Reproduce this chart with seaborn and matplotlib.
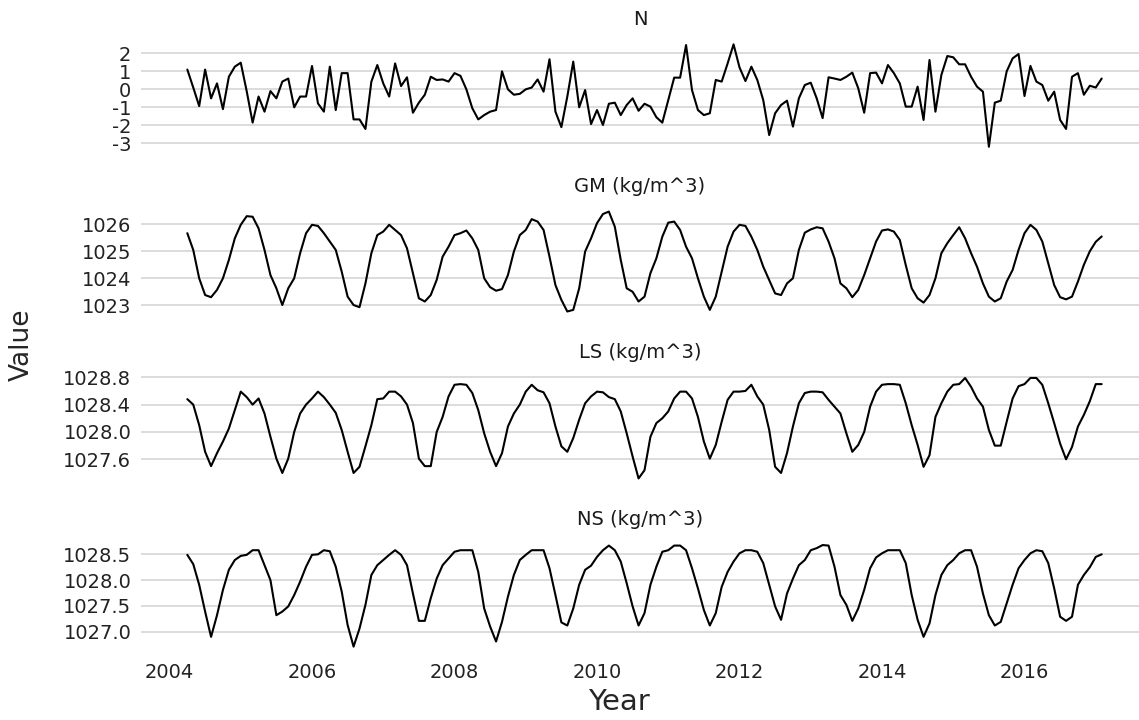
import matplotlib
matplotlib.use("Agg")
import matplotlib.pyplot as plt
import pandas as pd
import seaborn as sns

# monthly observations, April 2004 - February 2017
months = pd.date_range("2004-04-01", periods=155, freq="MS")

n_index = [
    1.1, 0.1, -0.93, 1.1, -0.5, 0.33, -1.1, 0.7, 1.26, 1.48, -0.1, -1.85,
    -0.4, -1.24, -0.1, -0.5, 0.43, 0.6, -1.0, -0.4, -0.4, 1.3, -0.78, -1.24,
    1.26, -1.15, 0.9, 0.9, -1.67, -1.67, -2.2, 0.43, 1.35, 0.33, -0.4, 1.44,
    0.18, 0.67, -1.3, -0.74, -0.3, 0.7, 0.52, 0.55, 0.43, 0.9, 0.75, 0.0,
    -1.05, -1.67, -1.43, -1.24, -1.15, 1.0, 0.0, -0.3, -0.25, 0.0, 0.1, 0.55,
    -0.13, 1.67, -1.24, -2.1, -0.4, 1.54, -1.0, -0.04, -1.93, -1.15, -1.98, -0.8,
    -0.74, -1.43, -0.87, -0.5, -1.19, -0.8, -0.96, -1.55, -1.85, -0.6, 0.65, 0.65,
    2.46, -0.04, -1.15, -1.43, -1.33, 0.52, 0.43, 1.44, 2.5, 1.22, 0.46, 1.26,
    0.52, -0.6, -2.54, -1.33, -0.87, -0.63, -2.07, -0.5, 0.24, 0.37, -0.5, -1.6,
    0.67, 0.6, 0.52, 0.7, 0.93, 0.06, -1.3, 0.9, 0.93, 0.33, 1.35, 0.9,
    0.33, -0.96, -0.96, 0.15, -1.7, 1.63, -1.24, 0.8, 1.85, 1.78, 1.39, 1.39,
    0.7, 0.15, -0.13, -3.19, -0.74, -0.63, 1.0, 1.72, 1.96, -0.37, 1.3, 0.43,
    0.24, -0.63, -0.13, -1.7, -2.2, 0.7, 0.9, -0.3, 0.2, 0.1, 0.6,
]

gm_density = [
    1025.67, 1025.05, 1024.0, 1023.38, 1023.3, 1023.57, 1024.0, 1024.68, 1025.48, 1025.98, 1026.3, 1026.28,
    1025.85, 1025.05, 1024.12, 1023.63, 1023.01, 1023.63, 1024.0, 1024.93, 1025.67, 1025.98, 1025.94, 1025.67,
    1025.36, 1025.05, 1024.25, 1023.32, 1023.01, 1022.93, 1023.81, 1024.93, 1025.6, 1025.73, 1025.98, 1025.79,
    1025.6, 1025.11, 1024.19, 1023.26, 1023.14, 1023.38, 1023.94, 1024.8, 1025.17, 1025.6, 1025.67, 1025.77,
    1025.48, 1025.05, 1024.0, 1023.67, 1023.54, 1023.6, 1024.12, 1024.99, 1025.6, 1025.79, 1026.19, 1026.1,
    1025.79, 1024.8, 1023.75, 1023.2, 1022.77, 1022.83, 1023.63, 1024.99, 1025.48, 1026.04, 1026.38, 1026.47,
    1025.91, 1024.68, 1023.63, 1023.5, 1023.14, 1023.32, 1024.19, 1024.74, 1025.54, 1026.06, 1026.1, 1025.79,
    1025.17, 1024.74, 1024.0, 1023.32, 1022.83, 1023.32, 1024.25, 1025.17, 1025.73, 1025.98, 1025.94, 1025.54,
    1025.05, 1024.43, 1023.94, 1023.44, 1023.38, 1023.81, 1024.0, 1025.05, 1025.69, 1025.81, 1025.89, 1025.85,
    1025.36, 1024.74, 1023.81, 1023.63, 1023.3, 1023.57, 1024.12, 1024.74, 1025.36, 1025.77, 1025.81, 1025.73,
    1025.42, 1024.49, 1023.63, 1023.26, 1023.1, 1023.38, 1024.0, 1024.93, 1025.3, 1025.6, 1025.89, 1025.48,
    1024.93, 1024.43, 1023.81, 1023.32, 1023.14, 1023.26, 1023.88, 1024.31, 1025.05, 1025.67, 1025.98, 1025.79,
    1025.36, 1024.56, 1023.75, 1023.3, 1023.22, 1023.32, 1023.88, 1024.5, 1025.0, 1025.35, 1025.55,
]

ls_density = [
    1028.48, 1028.4, 1028.1, 1027.71, 1027.5, 1027.69, 1027.86, 1028.05, 1028.32, 1028.59, 1028.51, 1028.4,
    1028.49, 1028.27, 1027.93, 1027.61, 1027.4, 1027.61, 1028.0, 1028.27, 1028.4, 1028.49, 1028.59, 1028.51,
    1028.4, 1028.28, 1028.03, 1027.71, 1027.4, 1027.49, 1027.79, 1028.1, 1028.48, 1028.49, 1028.59, 1028.59,
    1028.52, 1028.4, 1028.13, 1027.61, 1027.5, 1027.5, 1028.0, 1028.22, 1028.52, 1028.69, 1028.7, 1028.69,
    1028.57, 1028.32, 1027.98, 1027.71, 1027.5, 1027.69, 1028.08, 1028.27, 1028.4, 1028.59, 1028.69, 1028.61,
    1028.58, 1028.42, 1028.08, 1027.79, 1027.71, 1027.91, 1028.18, 1028.42, 1028.52, 1028.59, 1028.58, 1028.51,
    1028.48, 1028.3, 1027.98, 1027.64, 1027.32, 1027.44, 1027.93, 1028.13, 1028.2, 1028.3, 1028.49, 1028.59,
    1028.59, 1028.49, 1028.22, 1027.86, 1027.61, 1027.81, 1028.15, 1028.47, 1028.59, 1028.59, 1028.6, 1028.69,
    1028.52, 1028.4, 1028.03, 1027.49, 1027.4, 1027.69, 1028.08, 1028.42, 1028.57, 1028.59, 1028.59, 1028.58,
    1028.47, 1028.37, 1028.27, 1027.98, 1027.71, 1027.81, 1028.0, 1028.37, 1028.59, 1028.69, 1028.7, 1028.7,
    1028.69, 1028.42, 1028.1, 1027.81, 1027.49, 1027.66, 1028.22, 1028.42, 1028.59, 1028.69, 1028.7, 1028.79,
    1028.66, 1028.49, 1028.37, 1028.03, 1027.8, 1027.8, 1028.15, 1028.49, 1028.67, 1028.7, 1028.79, 1028.79,
    1028.69, 1028.42, 1028.13, 1027.83, 1027.6, 1027.78, 1028.08, 1028.25, 1028.45, 1028.7, 1028.7,
]

ns_density = [
    1028.49, 1028.31, 1027.91, 1027.39, 1026.9, 1027.32, 1027.81, 1028.2, 1028.39, 1028.47, 1028.49, 1028.58,
    1028.58, 1028.29, 1028.0, 1027.32, 1027.39, 1027.49, 1027.71, 1027.97, 1028.26, 1028.49, 1028.5, 1028.58,
    1028.56, 1028.26, 1027.78, 1027.13, 1026.71, 1027.06, 1027.52, 1028.1, 1028.29, 1028.39, 1028.49, 1028.58,
    1028.49, 1028.29, 1027.74, 1027.21, 1027.21, 1027.65, 1028.03, 1028.29, 1028.42, 1028.55, 1028.58, 1028.58,
    1028.58, 1028.16, 1027.45, 1027.1, 1026.81, 1027.19, 1027.68, 1028.1, 1028.39, 1028.49, 1028.58, 1028.58,
    1028.58, 1028.23, 1027.71, 1027.18, 1027.12, 1027.45, 1027.91, 1028.2, 1028.28, 1028.45, 1028.58, 1028.67,
    1028.58, 1028.36, 1027.94, 1027.49, 1027.12, 1027.36, 1027.91, 1028.26, 1028.55, 1028.58, 1028.67, 1028.67,
    1028.58, 1028.23, 1027.84, 1027.42, 1027.12, 1027.36, 1027.87, 1028.16, 1028.36, 1028.52, 1028.58, 1028.58,
    1028.55, 1028.33, 1027.91, 1027.49, 1027.23, 1027.74, 1028.03, 1028.29, 1028.39, 1028.58, 1028.62, 1028.68,
    1028.67, 1028.26, 1027.71, 1027.52, 1027.21, 1027.45, 1027.81, 1028.23, 1028.44, 1028.52, 1028.58, 1028.58,
    1028.58, 1028.33, 1027.71, 1027.23, 1026.9, 1027.16, 1027.71, 1028.1, 1028.29, 1028.39, 1028.52, 1028.58,
    1028.58, 1028.26, 1027.74, 1027.32, 1027.12, 1027.19, 1027.55, 1027.91, 1028.23, 1028.39, 1028.52, 1028.58,
    1028.56, 1028.33, 1027.84, 1027.29, 1027.21, 1027.29, 1027.91, 1028.1, 1028.25, 1028.45, 1028.5,
]

panel_names = ["N", "GM (kg/m^3)", "LS (kg/m^3)", "NS (kg/m^3)"]
year_ticks = [2004, 2006, 2008, 2010, 2012, 2014, 2016]
y_ticks = {
    "N": [-3, -2, -1, 0, 1, 2],
    "GM (kg/m^3)": [1023, 1024, 1025, 1026],
    "LS (kg/m^3)": [1027.6, 1028.0, 1028.4, 1028.8],
    "NS (kg/m^3)": [1027.0, 1027.5, 1028.0, 1028.5],
}
y_fmt = {"N": "{:g}", "GM (kg/m^3)": "{:g}", "LS (kg/m^3)": "{:.1f}", "NS (kg/m^3)": "{:.1f}"}

year_frac = months.year + (months.month - 1) / 12
wide = pd.DataFrame({
    "Year": year_frac,
    "N": n_index,
    "GM (kg/m^3)": gm_density,
    "LS (kg/m^3)": ls_density,
    "NS (kg/m^3)": ns_density,
})
df = wide.melt(id_vars="Year", var_name="variable", value_name="Value")

sns.set_theme(style="white")
plt.rcParams["font.family"] = ["DejaVu Sans"]

W, H = 1139, 720
fig = plt.figure(figsize=(W / 100, H / 100), dpi=100)

# panel placement in pixels: (top, bottom) and y limits
layout = {
    "N": (39.3, 151.8, (-3.47, 2.78)),
    "GM (kg/m^3)": (206.6, 316.5, (1022.585, 1026.655)),
    "LS (kg/m^3)": (372.9, 483.5, (1027.246, 1028.864)),
    "NS (kg/m^3)": (539.9, 651.8, (1026.61, 1028.78)),
}
left_px = 141
x_min = 2003.60
x_max = x_min + (W - left_px) / 71.25
strip_x = 640 / W

for k, name in enumerate(panel_names):
    top, bottom, ylim = layout[name]
    ax = fig.add_axes([left_px / W, 1 - bottom / H, (W - left_px) / W, (bottom - top) / H])
    sns.lineplot(data=df[df["variable"] == name], x="Year", y="Value",
                 color="black", linewidth=1.5, ax=ax)
    ax.set_xlim(x_min, x_max)
    ax.set_ylim(*ylim)
    ax.set_yticks(y_ticks[name])
    ax.set_yticklabels([y_fmt[name].format(v) for v in y_ticks[name]])
    ax.yaxis.grid(True, color="#d2d2d2", linewidth=1.1)
    ax.xaxis.grid(False)
    for s in ax.spines.values():
        s.set_visible(False)
    ax.set_xlabel("")
    ax.set_ylabel("")
    ax.tick_params(axis="y", length=4, width=1, color="#333333", pad=3,
                   labelsize=14, labelcolor="#222222")
    ax.set_xticks(year_ticks)
    if k == len(panel_names) - 1:
        ax.set_xticklabels([str(y) for y in year_ticks])
        ax.tick_params(axis="x", length=4, width=1, color="#333333", pad=4,
                       labelsize=14, labelcolor="#222222")
    else:
        ax.set_xticklabels([])
        ax.tick_params(axis="x", length=0)
    fig.text(strip_x, 1 - (top - 20) / H, name, ha="center", va="center",
             fontsize=14, color="#1a1a1a")

fig.text(619 / W, 1 - 702 / H, "Year", ha="center", va="center", fontsize=21)
fig.text(22 / W, 1 - 345 / H, "Value", ha="center", va="center",
         rotation=90, fontsize=19)

fig.savefig("out.png", dpi=100, facecolor="white")
